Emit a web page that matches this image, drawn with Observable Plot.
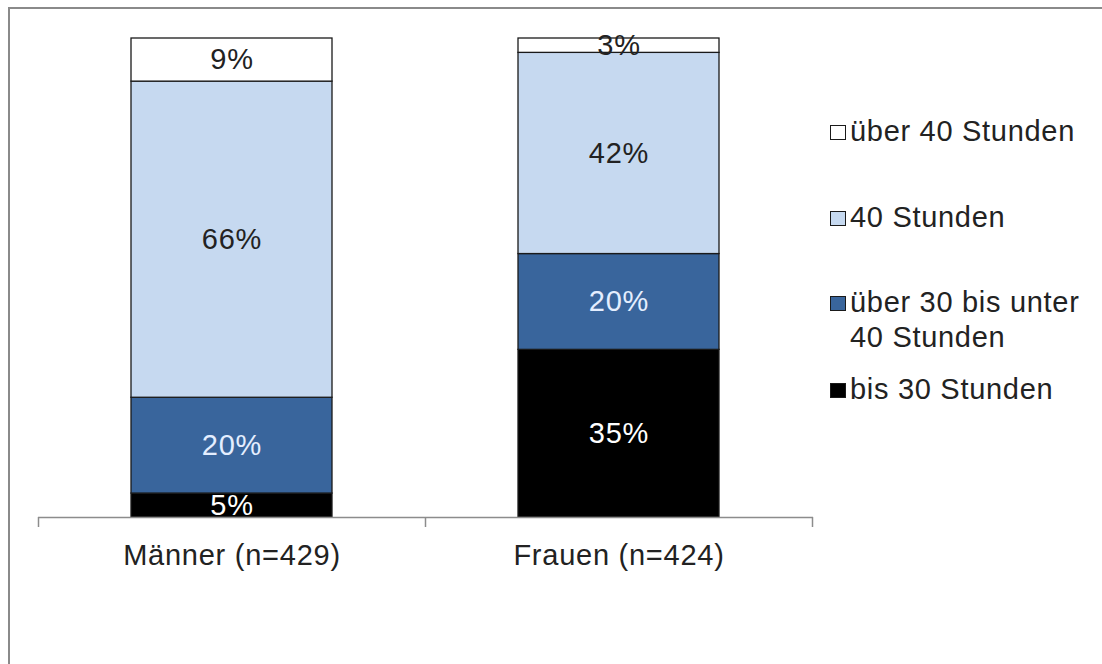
<!DOCTYPE html>
<html>
<head>
<meta charset="utf-8">
<script src="https://cdn.jsdelivr.net/npm/d3@7"></script>
<script src="https://cdn.jsdelivr.net/npm/@observablehq/plot@0.6"></script>
<style>
  body { margin: 0; background: #fff; font-family: "Liberation Sans", Arial, sans-serif; }
  #chart { position: relative; width: 1102px; height: 664px; overflow: hidden; background: #fff; }
  #frame { position: absolute; left: 8px; top: 7px; width: 1300px; height: 900px;
           border-top: 2px solid #8a8a8a; border-left: 2px solid #8a8a8a; box-sizing: border-box; }
  #plot { position: absolute; left: 0; top: 0; }
  #plot svg text { letter-spacing: 0.75px; }
  .legend-item { position: absolute; left: 830px; font-size: 29px; line-height: 35px; color: #222;
                 letter-spacing: 0.7px; }
  .legend-item .swatch { position: absolute; left: 0; width: 14px; height: 13px; border: 1px solid #1a1a1a; }
  .legend-item .label { position: absolute; left: 20px; width: 250px; white-space: normal; }
</style>
</head>
<body>
<div id="chart">
  <div id="frame"></div>
  <div id="plot"></div>
  <div id="legend"></div>
</div>
<script>
// Weekly working hours by gender, share of respondents (%)
const groups = ["Männer (n=429)", "Frauen (n=424)"];
const series = ["bis 30 Stunden", "über 30 bis unter 40 Stunden", "40 Stunden", "über 40 Stunden"];
const maenner = [5, 20, 66, 9];
const frauen = [35, 20, 42, 3];
const colors = ["#000000", "#39659c", "#c6d9f0", "#ffffff"];

const values = [maenner, frauen];
const rows = [];
groups.forEach((g, gi) => series.forEach((s, si) => rows.push({group: g, series: s, value: values[gi][si]})));

const font = "'Liberation Sans', Arial, sans-serif";
const darkSeries = new Set([series[0], series[1]]);

function build(step) {
  const labelMark = (pick, fill) => Plot.text(rows, Plot.stackY({
    x: "group", y: "value", z: "series",
    text: d => pick(d) ? d.value + "%" : null,
    fill, fontSize: 29, fontFamily: font, lineAnchor: "middle"
  }));
  return Plot.plot({
    width: 830,
    height: 664,
    marginLeft: 38,
    marginRight: 17,
    marginTop: 38,
    marginBottom: 147,
    style: {fontFamily: font, background: "transparent", overflow: "visible"},
    x: {domain: groups, paddingInner: 0.48, paddingOuter: 0.24, axis: null},
    y: {domain: [0, 100], axis: null},
    color: {domain: series, range: colors},
    marks: [
      Plot.barY(rows, Plot.stackY({
        x: "group", y: "value", fill: "series", z: "series",
        stroke: "#1a1a1a", strokeWidth: 1.3
      })),
      // category axis line and boundary ticks
      Plot.ruleY([0], {stroke: "#8c8c8c", strokeWidth: 1.5}),
      Plot.ruleX(groups, {x: d => d, y1: () => 0, y2: () => 0, dx: -step / 2, insetBottom: -10, stroke: "#8c8c8c", strokeWidth: 1.5}),
      Plot.ruleX(groups.slice(-1), {x: d => d, y1: () => 0, y2: () => 0, dx: step / 2, insetBottom: -10, stroke: "#8c8c8c", strokeWidth: 1.5}),
      // segment value labels
      labelMark(d => d.series === series[0], "#ffffff"),
      labelMark(d => d.series === series[1], "#e4eeff"),
      labelMark(d => !darkSeries.has(d.series), "#222"),
      // category labels
      Plot.text(groups, {x: d => d, frameAnchor: "bottom", dy: 38, lineAnchor: "middle",
        fontSize: 29, fontFamily: font, fill: "#222"})
    ]
  });
}

const step = build(0).scale("x").step;
document.getElementById("plot").appendChild(build(step));

// legend, top item first
const legendTops = [114, 200, 285, 372];
const legend = document.getElementById("legend");
series.slice().reverse().forEach((s, i) => {
  const item = document.createElement("div");
  item.className = "legend-item";
  item.style.top = legendTops[i] + "px";
  const sw = document.createElement("div");
  sw.className = "swatch";
  sw.style.top = "11px";
  sw.style.background = colors[series.indexOf(s)];
  const lb = document.createElement("div");
  lb.className = "label";
  lb.textContent = s;
  item.appendChild(sw);
  item.appendChild(lb);
  legend.appendChild(item);
});
</script>
</body>
</html>
